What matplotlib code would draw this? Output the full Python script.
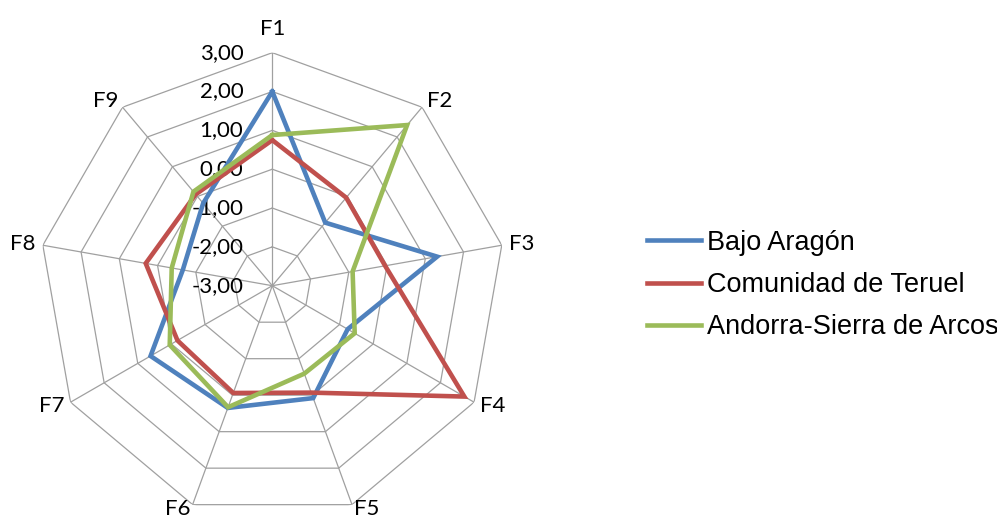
import numpy as np
import matplotlib
matplotlib.use("Agg")
import matplotlib.pyplot as plt

# Datos del gráfico radial
categorias = ['F1', 'F2', 'F3', 'F4', 'F5', 'F6', 'F7', 'F8', 'F9']
bajo_aragon = [2.00, -0.88, 1.31, -0.76, 0.08, 0.35, 0.62, -0.66, -0.23]
comunidad_teruel = [0.75, -0.04, -0.05, 2.71, -0.07, -0.06, -0.18, 0.31, 0.07]
andorra_sierra = [0.88, 2.40, -0.90, -0.55, -0.59, 0.33, 0.05, -0.37, 0.16]
series = ['Bajo Aragón', 'Comunidad de Teruel', 'Andorra-Sierra de Arcos']
niveles = [-3, -2, -1, 0, 1, 2, 3]
etiquetas_niveles = ['-3,00', '-2,00', '-1,00', '0,00', '1,00', '2,00', '3,00']

colores = ['#4F81BD', '#C0504D', '#9BBB59']
gris = '#A0A0A0'

W, H = 997, 519
cx, cy, R = 272.3, 285.7, 233.0

fig = plt.figure(figsize=(W / 100, H / 100), dpi=100)
ax = fig.add_axes([(cx - R) / W, (H - cy - R) / H, 2 * R / W, 2 * R / H],
                  projection='polar')
ax.set_theta_zero_location('N')
ax.set_theta_direction(-1)
ax.set_ylim(niveles[0], niveles[-1])
ax.grid(False)
ax.set_xticks([])
ax.set_yticks([])
ax.spines['polar'].set_visible(False)
ax.patch.set_visible(False)

n = len(categorias)
angulos = np.linspace(0, 2 * np.pi, n, endpoint=False)
ang_cerrado = np.append(angulos, angulos[0])

# Rejilla poligonal
for nv in niveles[1:]:
    ax.plot(ang_cerrado, [nv] * (n + 1), color=gris, lw=0.9, zorder=1)
for a in angulos:
    ax.plot([a, a], [niveles[0], niveles[-1]], color=gris, lw=0.9, zorder=1)

# Series
for nombre, valores, c in zip(series, [bajo_aragon, comunidad_teruel, andorra_sierra], colores):
    ax.plot(ang_cerrado, valores + valores[:1], color=c, lw=3.3, label=nombre,
            solid_joinstyle='miter', zorder=3)

# Etiquetas del eje radial
for nv, txt in zip(niveles, etiquetas_niveles):
    ax.annotate(txt, xy=(0, nv), xytext=(-29 * 0.72, 0), textcoords='offset points',
                ha='right', va='center', fontsize=16, family='Lato', color='#000000',
                zorder=2)

# Etiquetas de categorías
for a, cat in zip(angulos, categorias):
    s, c = np.sin(a), np.cos(a)
    if abs(s) < 0.1:
        ha, va = 'center', 'bottom'
        off = (0, 14)
    else:
        ha = 'left' if s > 0 else 'right'
        va = 'center'
        off = (7 * s, 8 * c if c > -0.9 else -4)
    ax.annotate(cat, xy=(a, niveles[-1]), xytext=(off[0] * 0.72, off[1] * 0.72),
                textcoords='offset points', ha=ha, va=va, fontsize=16,
                family='Lato', color='#000000', annotation_clip=False)

fig.legend(loc='center left', bbox_to_anchor=(647 / W, 1 - 285 / H),
           frameon=False, borderpad=0, borderaxespad=0, handlelength=2.0,
           handletextpad=0.2, labelspacing=0.6,
           prop={'family': 'Liberation Sans', 'size': 19.5})

fig.savefig('out.png', dpi=100)
